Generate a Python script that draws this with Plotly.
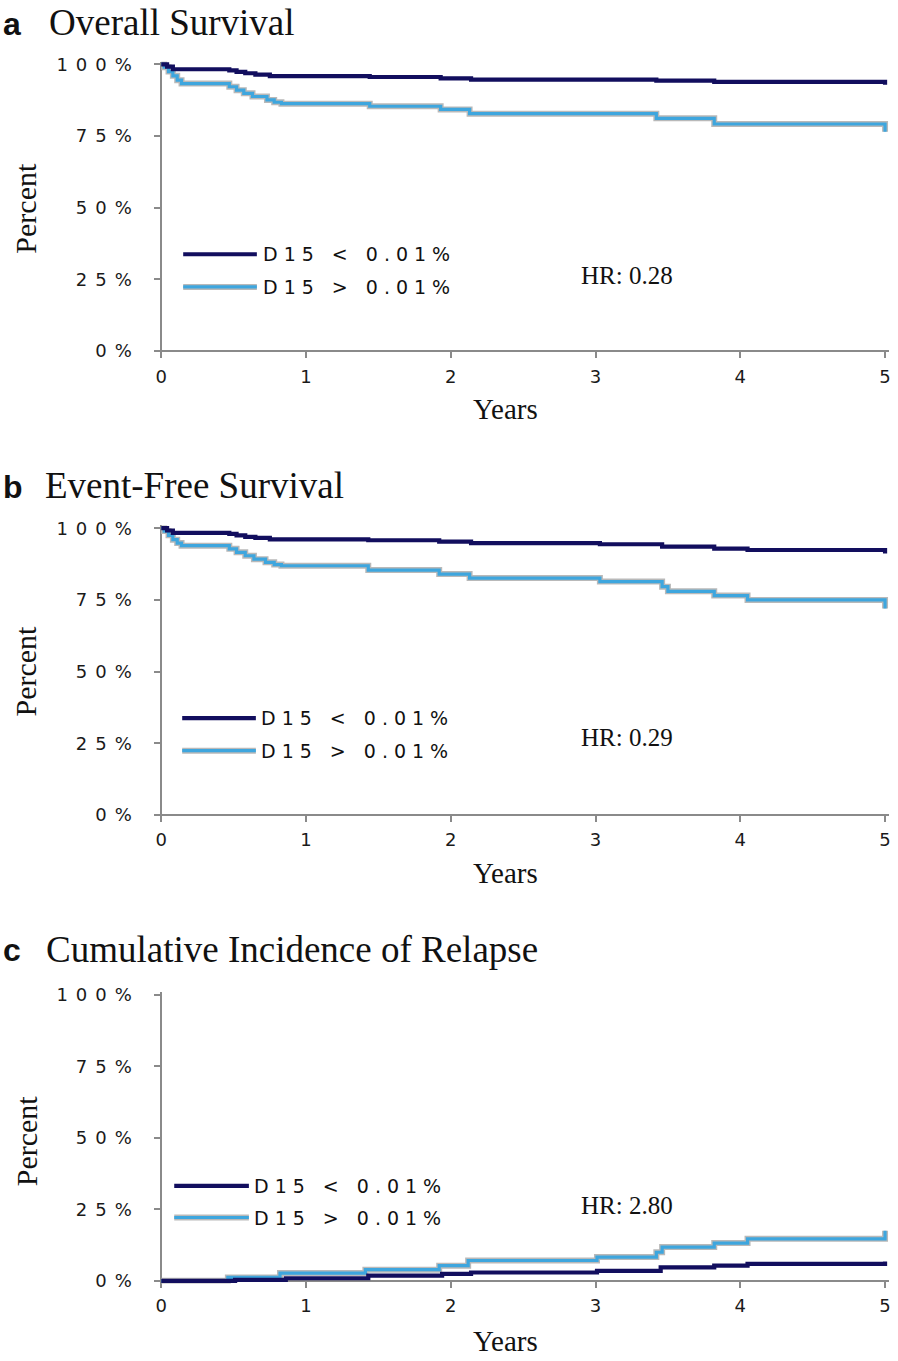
import plotly.graph_objects as go

# ---------------- data ----------------
os_low_t = [0, 0.04, 0.08, 0.47, 0.52, 0.58, 0.65, 0.75, 1.44, 1.93, 2.14, 3.42, 3.82, 4.99, 5.0]
os_low_v = [100, 99.2, 98.3, 97.9, 97.4, 96.9, 96.4, 95.9, 95.6, 95.1, 94.7, 94.3, 93.9, 93.9, 92.9]
os_high_t = [0, 0.02, 0.05, 0.08, 0.11, 0.14, 0.47, 0.52, 0.57, 0.63, 0.73, 0.78, 0.83, 1.44, 1.93, 2.13, 3.42, 3.82, 4.99, 5.0]
os_high_v = [100, 99.0, 97.5, 96.0, 94.5, 93.3, 92.2, 91.0, 89.9, 88.8, 87.6, 86.8, 86.3, 85.4, 84.3, 82.8, 81.2, 79.2, 79.2, 76.5]

efs_low_t = [0, 0.04, 0.08, 0.47, 0.52, 0.58, 0.65, 0.75, 1.43, 1.92, 2.14, 3.03, 3.46, 3.82, 4.05, 4.99, 5.0]
efs_low_v = [100, 99.2, 98.4, 98.0, 97.5, 97.0, 96.6, 96.1, 95.8, 95.3, 94.8, 94.4, 93.6, 92.9, 92.4, 92.4, 91.2]
efs_high_t = [0, 0.02, 0.05, 0.08, 0.11, 0.14, 0.47, 0.52, 0.58, 0.64, 0.72, 0.78, 0.83, 1.43, 1.92, 2.13, 3.03, 3.46, 3.50, 3.82, 4.05, 4.99, 5.0]
efs_high_v = [100, 99.0, 97.5, 96.0, 94.8, 93.9, 92.8, 91.6, 90.4, 89.2, 88.1, 87.3, 86.9, 85.4, 84.0, 82.6, 81.4, 79.6, 78.0, 76.5, 75.0, 75.0, 72.0]

cir_low_t = [0, 0.51, 0.86, 1.43, 1.94, 2.14, 3.01, 3.45, 3.82, 4.05, 4.99, 5.0]
cir_low_v = [0, 0.3, 0.9, 1.8, 2.4, 2.9, 3.5, 4.7, 5.3, 5.9, 5.9, 6.8]
cir_high_t = [0, 0.46, 0.82, 1.41, 1.92, 2.12, 3.01, 3.42, 3.46, 3.82, 4.05, 4.99, 5.0]
cir_high_v = [0, 1.2, 2.7, 3.9, 5.3, 7.1, 8.3, 10.0, 11.8, 13.2, 14.7, 14.7, 17.5]

panel_letters = ["a", "b", "c"]
panel_titles = ["Overall Survival", "Event-Free Survival", "Cumulative Incidence of Relapse"]
hr_labels = ["HR: 0.28", "HR: 0.29", "HR: 2.80"]
series_names = ["D15 &lt; 0.01%", "D15 &gt; 0.01%"]
y_ticks = [0, 25, 50, 75, 100]
y_tick_text = ["0%", "25%", "50%", "75%", "100%"]
x_ticks = [0, 1, 2, 3, 4, 5]

# ---------------- layout helpers ----------------
W, H = 898, 1361
DARK = "#120e5e"
LIGHT = "#3ea6de"
EDGE = "#b9b9b9"
AXC = "#8a8a8a"


def fx(p):
    return p / W


def fy(p):
    return 1 - p / H


X0PX, X5PX = 160, 887
XPU = (X5PX - X0PX) / 5.0
XR = [-0.025, 5.025]
y0px = [347, 816, 1287]
y100px = [57, 526, 998]
YR = [-1.0, 101.0]

data = [
    (os_low_t, os_low_v, os_high_t, os_high_v),
    (efs_low_t, efs_low_v, efs_high_t, efs_high_v),
    (cir_low_t, cir_low_v, cir_high_t, cir_high_v),
]
title_y = [15, 483, 952]
title_x = [45, 41, 42]
years_y = [405, 875, 1348]
percent_y = [202, 670, 1145]
hr_y = [270, 738, 1211]
leg_y = [(249, 282), (718, 751), (1191, 1223)]
leg_x = [(182, 256, 260), (181, 255, 258), (173, 248, 251)]

fig = go.Figure()
annotations = []
shapes = []
layout = {}

for i in range(3):
    sfx = "" if i == 0 else str(i + 1)
    xa, ya = "x" + sfx, "y" + sfx
    lt, lv, ht, hv = data[i]
    fig.add_trace(go.Scatter(x=ht, y=hv, mode="lines", line=dict(shape="hv", color=EDGE, width=6),
                             xaxis=xa, yaxis=ya, showlegend=False, hoverinfo="skip"))
    fig.add_trace(go.Scatter(x=ht, y=hv, mode="lines", line=dict(shape="hv", color=LIGHT, width=3.2),
                             xaxis=xa, yaxis=ya, showlegend=False))
    fig.add_trace(go.Scatter(x=lt, y=lv, mode="lines", line=dict(shape="hv", color=DARK, width=4.2),
                             xaxis=xa, yaxis=ya, showlegend=False))

    ppu = (y0px[i] - y100px[i]) / 100.0
    dom_top = y0px[i] - YR[1] * ppu
    dom_bot = y0px[i] - YR[0] * ppu
    dxl = X0PX + XR[0] * XPU
    dxr = X0PX + XR[1] * XPU
    layout["xaxis" + sfx] = dict(
        domain=[fx(dxl), fx(dxr)], range=XR, anchor="free", position=fy(y0px[i]),
        tickvals=x_ticks, ticktext=[str(v) for v in x_ticks],
        showline=True, linecolor=AXC, linewidth=1.6, ticks="outside", ticklen=6,
        tickwidth=1.5, tickcolor=AXC, showgrid=False, zeroline=False, layer="below traces",
        tickfont=dict(family="DejaVu Sans", size=18, color="#1a1a1a"), ticklabelstandoff=3,
    )
    layout["yaxis" + sfx] = dict(
        domain=[fy(dom_bot), fy(dom_top)], range=YR, anchor="free", position=fx(X0PX),
        tickvals=y_ticks, ticktext=y_tick_text,
        showline=True, linecolor=AXC, linewidth=1.6, ticks="outside", ticklen=6,
        tickwidth=1.5, tickcolor=AXC, showgrid=False, zeroline=False, layer="below traces",
        tickfont=dict(family="DejaVu Sans", size=18, color="#1a1a1a"), ticklabelstandoff=11,
    )

    annotations.append(dict(text="<b>" + panel_letters[i] + "</b>", x=fx(-1), y=fy(title_y[i] + 1),
                            xref="paper", yref="paper", xanchor="left", yanchor="middle", showarrow=False,
                            font=dict(family="Liberation Sans", size=32, color="#111")))
    annotations.append(dict(text=panel_titles[i], x=fx(title_x[i]), y=fy(title_y[i]),
                            xref="paper", yref="paper", xanchor="left", yanchor="middle", showarrow=False,
                            font=dict(family="Liberation Serif", size=37, color="#111")))
    annotations.append(dict(text="Years", x=fx(506), y=fy(years_y[i]), xref="paper", yref="paper",
                            xanchor="center", yanchor="middle", showarrow=False,
                            font=dict(family="Liberation Serif", size=29, color="#111")))
    annotations.append(dict(text="Percent", x=fx(24), y=fy(percent_y[i]), xref="paper", yref="paper",
                            xanchor="center", yanchor="middle", showarrow=False, textangle=-90,
                            font=dict(family="Liberation Serif", size=30, color="#111")))
    annotations.append(dict(text=hr_labels[i], x=fx(628), y=fy(hr_y[i]), xref="paper", yref="paper",
                            xanchor="center", yanchor="middle", showarrow=False,
                            font=dict(family="Liberation Serif", size=25, color="#111")))
    lx0, lx1, tx = leg_x[i]
    for j, (col, name) in enumerate([(DARK, series_names[0]), (LIGHT, series_names[1])]):
        yy = fy(leg_y[i][j])
        if j == 1:
            shapes.append(dict(type="line", xref="paper", yref="paper", x0=fx(lx0), x1=fx(lx1),
                               y0=yy, y1=yy, line=dict(color=EDGE, width=6)))
            shapes.append(dict(type="line", xref="paper", yref="paper", x0=fx(lx0), x1=fx(lx1),
                               y0=yy, y1=yy, line=dict(color=LIGHT, width=3.2)))
        else:
            shapes.append(dict(type="line", xref="paper", yref="paper", x0=fx(lx0), x1=fx(lx1),
                               y0=yy, y1=yy, line=dict(color=DARK, width=4.2)))
        annotations.append(dict(text=name, x=fx(tx), y=yy, xref="paper", yref="paper",
                                xanchor="left", yanchor="middle", align="left", showarrow=False,
                                font=dict(family="DejaVu Sans", size=19, color="#111")))

fig.update_layout(
    width=W, height=H, margin=dict(l=0, r=0, t=0, b=0),
    paper_bgcolor="white", plot_bgcolor="white", showlegend=False,
    annotations=annotations, shapes=shapes, **layout,
)

post = """
document.body.style.margin='0';
document.body.style.padding='0';
var gd=document.getElementById('{plot_id}');
gd.style.position='absolute'; gd.style.left='0px'; gd.style.top='0px';
var st=document.createElement('style');
st.innerHTML='.ytick text,.y2tick text,.y3tick text{letter-spacing:8px}';
document.head.appendChild(st);
document.querySelectorAll('text.annotation-text').forEach(function(t){
  if(t.textContent.indexOf('D15')===0){t.style.letterSpacing='6px';t.setAttribute('text-anchor','start');}
});
"""
fig.write_html("out.html", post_script=post, config={"displayModeBar": False})
